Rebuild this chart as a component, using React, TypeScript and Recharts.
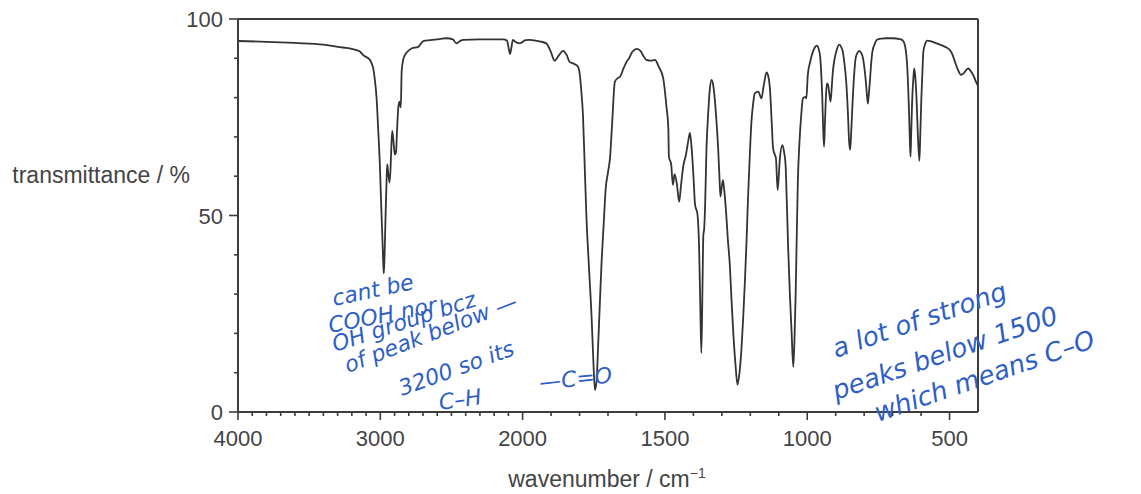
import { Label, Line, LineChart, ReferenceLine, XAxis, YAxis } from "recharts";

// IR spectrum (wavenumber in cm-1, transmittance in %)
const wavenumbers = [
  4000, 3800, 3600, 3400, 3300, 3200, 3143, 3120, 3073, 3061, 3050, 3040, 3026, 3015, 3003, 2995, 2987, 2978,
  2975, 2970, 2963, 2955, 2951, 2945, 2935, 2928, 2922, 2916, 2908, 2898, 2890, 2882, 2874, 2866, 2860, 2856,
  2850, 2840, 2827, 2800, 2780, 2734, 2698, 2650, 2582, 2535, 2490, 2465, 2440, 2418, 2300, 2137, 2110, 2095,
  2088, 2080, 2068, 2055, 2020, 1990, 1975, 1940, 1917, 1900, 1888, 1872, 1858, 1845, 1835, 1820, 1806, 1799,
  1793, 1788, 1782, 1776, 1767, 1758, 1752, 1746, 1740, 1735, 1729, 1723, 1715, 1708, 1700, 1693, 1685, 1676,
  1665, 1658, 1645, 1635, 1626, 1615, 1598, 1585, 1575, 1565, 1550, 1535, 1522, 1506, 1495, 1488, 1486, 1478,
  1472, 1466, 1458, 1450, 1443, 1435, 1426, 1418, 1412, 1406, 1400, 1394, 1386, 1380, 1376, 1372, 1368, 1365,
  1362, 1359, 1354, 1348, 1342, 1336, 1330, 1325, 1318, 1313, 1308, 1305, 1300, 1296, 1291, 1286, 1279, 1272,
  1266, 1260, 1252, 1245, 1238, 1231, 1225, 1219, 1213, 1208, 1202, 1196, 1190, 1184, 1172, 1161, 1152, 1143,
  1137, 1131, 1125, 1120, 1114, 1110, 1104, 1100, 1096, 1087, 1081, 1076, 1072, 1067, 1061, 1055, 1049, 1045,
  1041, 1037, 1033, 1027, 1021, 1015, 1006, 1003, 998, 990, 980, 972, 966, 960, 954, 950, 947, 944, 941, 938,
  935, 931, 927, 924, 921, 918, 914, 910, 904, 898, 888, 880, 875, 869, 863, 857, 853, 849, 845, 840, 835, 830,
  824, 818, 810, 804, 799, 794, 790, 787, 784, 780, 775, 771, 763, 755, 740, 722, 700, 675, 665, 657, 652, 649,
  645, 642, 639, 637, 635, 631, 627, 624, 620, 616, 611, 606, 603, 599, 595, 592, 585, 578, 560, 534, 515, 499,
  490, 481, 470, 460, 450, 442, 434, 428, 422, 414, 407, 400,
];

const transmittance = [
  94.4, 94.2, 93.9, 93.5, 92.9, 92.4, 91.7, 90.8, 89.6, 88.7, 87.5, 85, 79.8, 72, 62.8, 54, 45.9, 37,
  35.3, 40, 50, 60, 63, 61, 58.4, 62, 68, 71.5, 69, 65.5, 66, 72, 77.3, 79, 78, 77.5,
  86.6, 89.5, 90.8, 92, 92.5, 92.9, 94.4, 94.6, 94.9, 95.1, 94.8, 93.8, 94.4, 94.7, 94.8, 94.8, 94.5, 92,
  91.1, 92.5, 94.7, 94.3, 93.8, 94.6, 94.7, 94.3, 93.8, 91.5, 89.4, 90.8, 91.9, 90.8, 89.1, 88.6, 87.9, 85.8,
  81, 75.6, 63, 50.1, 37, 24.7, 14, 5.6, 8, 16.2, 27, 37.4, 48, 56.9, 61, 64.6, 74, 84,
  85, 85.3, 87.5, 89.1, 90, 91.6, 92.4, 91.8, 90.5, 89.6, 89.4, 89.6, 87.9, 84.9, 78, 72, 65, 63,
  57.8, 60.5, 58, 53.5, 58, 62.8, 65.5, 69, 71, 67, 60.3, 52.7, 50.5, 42, 28, 15, 32, 45,
  46.7, 52, 67, 76, 82.3, 84.5, 83, 79.8, 73, 67.1, 59, 54.8, 57.5, 59, 56, 51.8, 44, 37.4,
  28.5, 20.4, 12, 6.9, 10, 16.2, 24, 33.2, 44, 54.4, 65, 73.9, 78.5, 81.1, 81.5, 79.8, 83.5, 86.4,
  85.5, 82.3, 74, 67.1, 65.5, 64.6, 56.5, 60, 64.6, 67.9, 66, 62.8, 54, 41.7, 30, 20.4, 11.5, 18,
  28.9, 44, 58.6, 69, 75.6, 79.8, 80.2, 79.8, 85.8, 89, 91.7, 92.9, 93.2, 92.4, 90, 85, 79.8, 72, 67.5, 73,
  79, 83.6, 83.3, 81.9, 80.3, 79, 82.5, 86.6, 89.8, 91.7, 93.5, 92.8, 91.7, 88.5, 84, 76, 69, 66.7, 72, 79.8, 86, 90,
  91.3, 91.9, 91.3, 90, 87.5, 84, 80.5, 78.5, 80.5, 84, 89, 91.7, 93.6, 94.7, 95, 95.1, 95.1, 94.9, 94.6, 93.4, 91, 88.3,
  82, 75.6, 68, 65, 70, 79.8, 85, 87.4, 85, 79.8, 70, 63.9, 70, 79.8, 87, 91.7, 93.8, 94.5, 94.2, 93.5, 92.9, 92.1,
  91, 89.1, 87, 85.8, 86.2, 87, 87.4, 87, 86.4, 85.3, 84, 83,
];

const xMajorTicks = [4000, 3000, 2000, 1500, 1000, 500];
const xMinorTicks = [
  3900, 3800, 3700, 3600, 3500, 3400, 3300, 3200, 3100, 2900, 2800, 2700, 2600, 2500, 2400, 2300, 2200, 2100,
  1900, 1800, 1700, 1600, 1400, 1300, 1200, 1100, 900, 800, 700, 600,
];
const yMajorTicks = [0, 50, 100];
const yMinorTicks = [10, 20, 30, 40, 60, 70, 80, 90];

// handwritten notes on the scan
const notesLeft = [
  { text: "cant be", x: 334, y: 306, angle: -12 },
  { text: "COOH nor", x: 330, y: 333, angle: -11 },
  { text: "OH group bcz", x: 335, y: 352, angle: -18 },
  { text: "of peak below —", x: 348, y: 373, angle: -21 },
  { text: "3200 so its", x: 402, y: 396, angle: -20 },
  { text: "C–H", x: 440, y: 410, angle: -8 },
  { text: "—C=O", x: 540, y: 390, angle: -6 },
];
const notesRight = [
  { text: "a lot of strong", x: 836, y: 358, angle: -19 },
  { text: "peaks below 1500", x: 836, y: 400, angle: -19 },
  { text: "which means  C–O", x: 878, y: 422, angle: -19 },
];

// the printed axis is compressed above 2000 cm-1 (half the scale of the part below)
const toPos = (w: number) => (w >= 2000 ? 4000 - w : 2000 + 2 * (2000 - w));
const fromPos = (p: number) => Math.round(p <= 2000 ? 4000 - p : 2000 - (p - 2000) / 2);

const rows = wavenumbers.map((w, i) => ({ pos: toPos(w), t: transmittance[i] }));

const AXIS = "#3d3d3d";
const TEXT = "#444444";
const FONT = "'Liberation Sans', Arial, sans-serif";
const INK = "#2f5fc4";

function XTick(props: any) {
  const { x, y, payload } = props;
  const w = fromPos(payload.value);
  const major = xMajorTicks.includes(w);
  return (
    <g>
      <line x1={x} x2={x} y1={y} y2={y + (major ? 8 : 4)} stroke={AXIS} strokeWidth={1.6} />
      {major && (
        <text x={x} y={y + 34} textAnchor="middle" fill={TEXT} fontSize={22} fontFamily={FONT}>
          {w}
        </text>
      )}
    </g>
  );
}

function YTick(props: any) {
  const { x, y, payload } = props;
  const major = yMajorTicks.includes(payload.value);
  return (
    <g>
      <line x1={x} x2={x - (major ? 9 : 4)} y1={y} y2={y} stroke={AXIS} strokeWidth={1.6} />
      {major && (
        <text x={x - 15} y={y + 8} textAnchor="end" fill={TEXT} fontSize={22} fontFamily={FONT}>
          {payload.value}
        </text>
      )}
    </g>
  );
}

export default function App() {
  const xTicks = [...xMajorTicks, ...xMinorTicks].map(toPos).sort((a, b) => a - b);
  const yTicks = [...yMajorTicks, ...yMinorTicks].sort((a, b) => a - b);

  return (
    <div style={{ position: "absolute", left: 0, top: 0, width: 1141, height: 494 }}>
      <LineChart
        width={1141}
        height={494}
        data={rows}
        margin={{ top: 19, right: 163, bottom: 22, left: 178 }}
      >
        <XAxis
          dataKey="pos"
          type="number"
          domain={[0, 5200]}
          ticks={xTicks}
          interval={0}
          tick={<XTick />}
          tickLine={false}
          tickSize={0}
          tickMargin={0}
          axisLine={{ stroke: AXIS, strokeWidth: 2 }}
          height={60}
          allowDataOverflow
        >
          <Label
            content={() => (
              <text x={607} y={487} textAnchor="middle" fill={TEXT} fontSize={23} fontFamily={FONT}>
                wavenumber / cm
                <tspan fontSize={14} dy={-9}>
                  −1
                </tspan>
              </text>
            )}
          />
        </XAxis>
        <YAxis
          type="number"
          domain={[0, 100]}
          ticks={yTicks}
          interval={0}
          tick={<YTick />}
          tickLine={false}
          tickSize={0}
          tickMargin={0}
          axisLine={{ stroke: AXIS, strokeWidth: 2 }}
          width={60}
          allowDataOverflow
        >
          <Label
            content={() => (
              <text x={190} y={183} textAnchor="end" fill={TEXT} fontSize={23} fontFamily={FONT}>
                transmittance / %
              </text>
            )}
          />
        </YAxis>
        <ReferenceLine y={100} stroke={AXIS} strokeWidth={2} ifOverflow="visible" />
        <ReferenceLine x={5200} stroke={AXIS} strokeWidth={2} ifOverflow="visible" />
        <Line
          type="monotone"
          dataKey="t"
          stroke="#333333"
          strokeWidth={1.8}
          dot={false}
          activeDot={false}
          isAnimationActive={false}
        />
      </LineChart>
      <svg
        width={1141}
        height={494}
        style={{ position: "absolute", left: 0, top: 0, pointerEvents: "none" }}
      >
        {notesLeft.map((a) => (
          <text
            key={a.text}
            x={a.x}
            y={a.y}
            transform={`rotate(${a.angle} ${a.x} ${a.y})`}
            fill={INK}
            fontSize={22}
            fontStyle="italic"
            fontFamily="'DejaVu Sans', sans-serif"
          >
            {a.text}
          </text>
        ))}
        {notesRight.map((a) => (
          <text
            key={a.text}
            x={a.x}
            y={a.y}
            transform={`rotate(${a.angle} ${a.x} ${a.y})`}
            fill={INK}
            fontSize={26}
            fontStyle="italic"
            fontFamily="'DejaVu Sans', sans-serif"
          >
            {a.text}
          </text>
        ))}
      </svg>
    </div>
  );
}
